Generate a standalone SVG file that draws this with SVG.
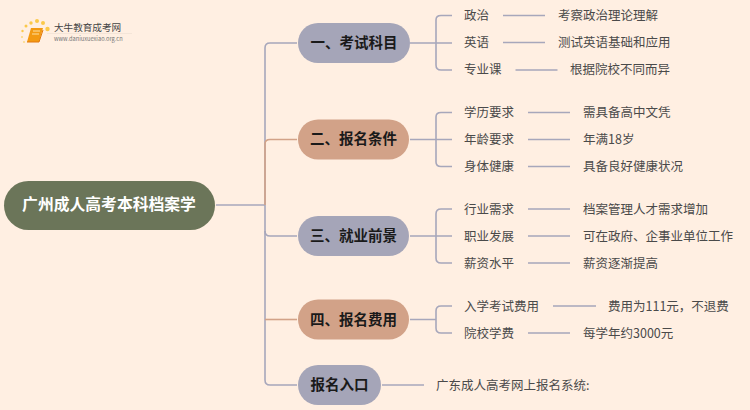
<svg xmlns="http://www.w3.org/2000/svg" width="750" height="410" viewBox="0 0 750 410">
<style>
text{font-family:"Noto Sans CJK SC","Noto Sans",sans-serif;dominant-baseline:central}
.c{fill:none;stroke:#a7a7bb;stroke-width:1.6}
.o{fill:none;stroke:#d2a288;stroke-width:1.6}
.b{fill:#a5a5b8}.r{fill:#d2a288}
.h{font-size:14.500px;font-weight:700;fill:#1a1a1a;text-anchor:middle}
.t{font-size:12.500px;fill:#4a4a4a}
</style>
<rect width="750" height="410" fill="#ffefe2"/>
<g id="connectors">
<path class="c" d="M265 48V380Q265 385 270 385H297M265 48Q265 43 270 43H297"/>
<path class="c" d="M216 205H265"/>
<path class="c" d="M265 231Q265 236 270 236H297"/>
<path class="o" d="M265 205V144Q265 139.500 270 139.500H297"/>
<path class="o" d="M265 319.500H297"/>
<path class="c" d="M410 43H452M436 42.500V20Q436 15.500 441 15.500H452M436 42.500V65Q436 70 441 70H452"/>
<path class="c" d="M410 139.500H452M436 139.500V117Q436 112.500 441 112.500H452M436 139.500V162Q436 166.500 441 166.500H452"/>
<path class="c" d="M410 236H452M436 236V214Q436 209 441 209H452M436 236V258Q436 263 441 263H452"/>
<path class="c" d="M410 319.500H436M436 319.500V311Q436 306 441 306H452M436 319.500V328Q436 333 441 333H452"/>
<path class="c" d="M382 385H424"/>
<path class="c" d="M503 15.500H545M503 42.500H545M515.500 70H557.500M528 112.500H570M528 139.500H570M528 166.500H570M528 209H570M528 236H570M528 263H570M553 306H596M528 333H570"/>
</g>
<g id="logo">
<circle cx="37" cy="21" r="2" fill="#fbc94a"/><circle cx="31" cy="23" r="1.700" fill="#fbc94a"/><circle cx="43" cy="23" r="2" fill="#fbc94a"/><circle cx="47.500" cy="29" r="2.200" fill="#fbc94a"/><circle cx="26" cy="26" r="1.500" fill="#fbc94a"/><circle cx="22.500" cy="31" r="1.200" fill="#fbc94a"/><circle cx="22" cy="37" r="1" fill="#fbd77a"/><circle cx="24" cy="42" r="0.900" fill="#fbd77a"/>
<path d="M31 28H43L39 42H27Z" fill="#f39a12"/><path d="M27 42H39L43 30" fill="none" stroke="#e2780c" stroke-width="1"/>
<path d="M33 31H40M32 34H39" stroke="#fde0a0" stroke-width="1"/>
<text x="54" y="27" font-size="9.600" fill="#444">大牛教育成考网</text>
<path d="M47 33.500H132" stroke="#f1e2d6" stroke-width="0.800"/>
<text x="54" y="38.500" font-size="5.700" fill="#777">www.daniuxuexiao.org.cn</text>
</g>
<g id="root"><rect x="4" y="181" width="211" height="49" rx="24.500" fill="#6b7559"/><text x="109" y="203" font-size="15.800" font-weight="700" fill="#fff" text-anchor="middle">广州成人高考本科档案学</text></g>
<g id="n1"><rect x="298" y="23" width="112" height="40" rx="20" class="b"/><text class="h" x="354" y="41.500">一、考试科目</text></g>
<g id="n2"><rect x="298" y="119.500" width="111" height="40" rx="20" class="r"/><text class="h" x="353.500" y="137.500">二、报名条件</text></g>
<g id="n3"><rect x="298" y="216" width="111" height="40" rx="20" class="b"/><text class="h" x="353.500" y="234.500">三、就业前景</text></g>
<g id="n4"><rect x="298" y="299.500" width="111" height="40" rx="20" class="r"/><text class="h" x="353.500" y="318">四、报名费用</text></g>
<g id="n5"><rect x="298" y="365" width="83" height="40" rx="20" class="b"/><text class="h" x="339.500" y="383.500">报名入口</text></g>
<g id="leaves" transform="translate(0,-0.500)">
<text class="t" x="464" y="15">政治</text><text class="t" x="558" y="15">考察政治理论理解</text>
<text class="t" x="464" y="42">英语</text><text class="t" x="558" y="42">测试英语基础和应用</text>
<text class="t" x="464" y="69">专业课</text><text class="t" x="570" y="69">根据院校不同而异</text>
<text class="t" x="464" y="112">学历要求</text><text class="t" x="583" y="112">需具备高中文凭</text>
<text class="t" x="464" y="139">年龄要求</text><text class="t" x="583" y="139">年满18岁</text>
<text class="t" x="464" y="166">身体健康</text><text class="t" x="583" y="166">具备良好健康状况</text>
<text class="t" x="464" y="209">行业需求</text><text class="t" x="583" y="209">档案管理人才需求增加</text>
<text class="t" x="464" y="236">职业发展</text><text class="t" x="583" y="236">可在政府、企事业单位工作</text>
<text class="t" x="464" y="263">薪资水平</text><text class="t" x="583" y="263">薪资逐渐提高</text>
<text class="t" x="464" y="306">入学考试费用</text><text class="t" x="608" y="306">费用为111元，不退费</text>
<text class="t" x="464" y="333">院校学费</text><text class="t" x="583" y="333">每学年约3000元</text>
<text class="t" x="436" y="385">广东成人高考网上报名系统:</text>
</g>
</svg>
